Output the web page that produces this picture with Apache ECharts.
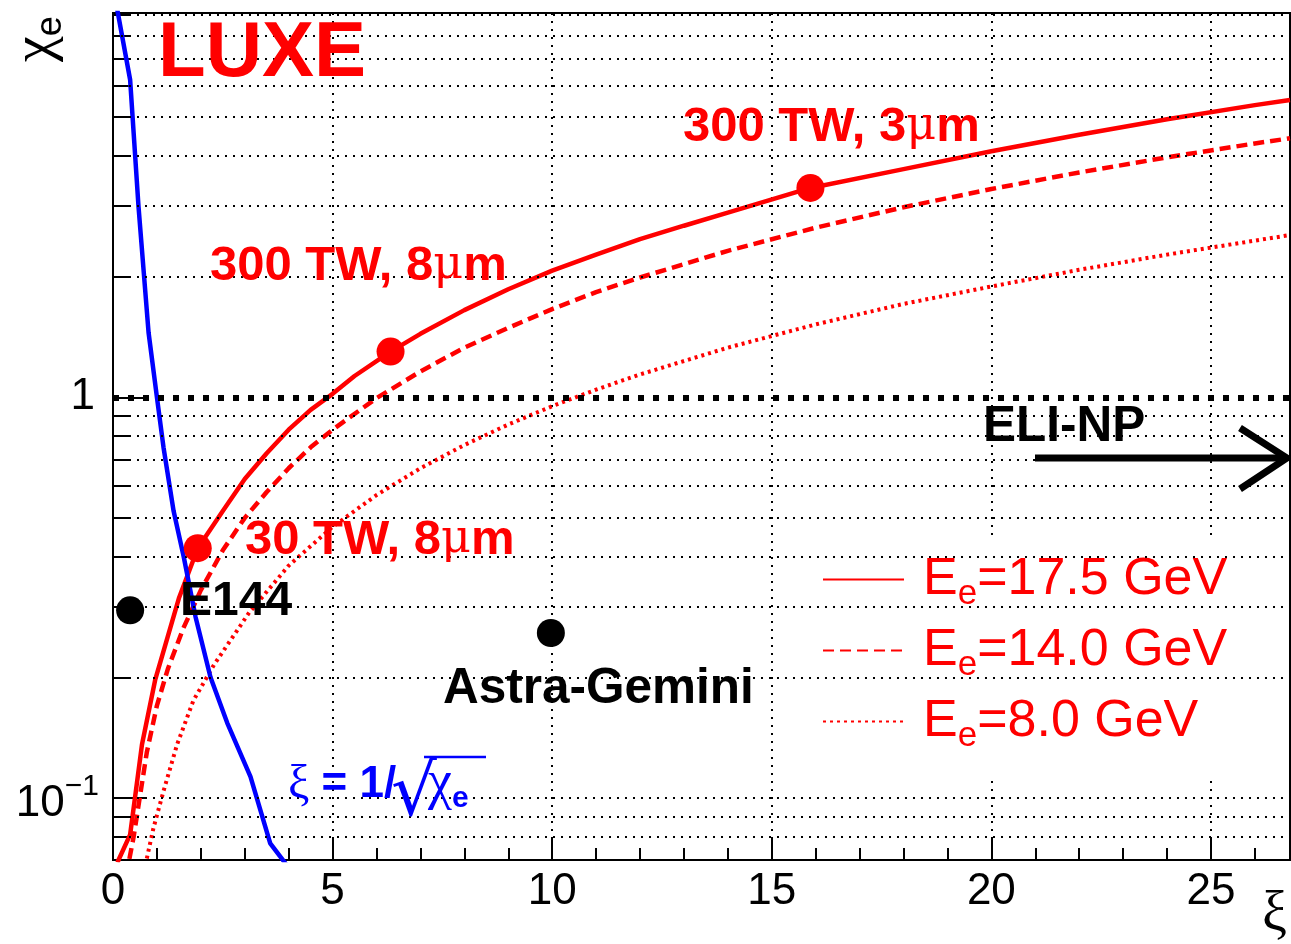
<!DOCTYPE html>
<html><head><meta charset="utf-8">
<script src="https://cdn.jsdelivr.net/npm/echarts@6/dist/echarts.min.js"></script>
<style>html,body{margin:0;padding:0;background:#fff}#c{width:1291px;height:944px}</style>
</head><body><div id="c"></div>
<script>
// ---- data ----
const xi175  = [0.1, 0.39, 0.66, 0.96, 1.5, 1.93, 2.5, 3.0, 3.5, 4.0, 4.5, 5.0, 5.5, 6.32, 7.0, 8.0, 9.0, 10, 11, 12, 13, 14, 15.88, 18, 20, 22, 24, 26, 26.8];
const chi175 = [0.069, 0.081, 0.136, 0.197, 0.315, 0.42, 0.52, 0.625, 0.725, 0.83, 0.93, 1.02, 1.13, 1.30, 1.44, 1.65, 1.86, 2.07, 2.27, 2.48, 2.68, 2.89, 3.33, 3.71, 4.11, 4.52, 4.94, 5.36, 5.52];

const xi140  = [0.3, 0.47, 0.77, 1.0, 1.25, 1.6, 2.0, 2.5, 3.0, 3.5, 4.0, 4.5, 5.0, 6.0, 7.0, 8.0, 9.0, 10, 11, 12, 14, 16, 18, 20, 22, 24, 26, 26.8];
const chi140 = [0.064, 0.08, 0.13, 0.17, 0.21, 0.265, 0.33, 0.415, 0.50, 0.58, 0.665, 0.75, 0.83, 0.995, 1.16, 1.33, 1.49, 1.66, 1.83, 1.99, 2.32, 2.65, 2.98, 3.31, 3.64, 3.97, 4.30, 4.43];

const xi80   = [0.6, 0.92, 1.15, 1.46, 1.83, 2.3, 3.1, 4.0, 5.0, 6.0, 7.0, 8.0, 9.0, 10, 11, 12, 14, 16, 18, 20, 22, 24, 26, 26.8];
const chi80  = [0.058, 0.084, 0.104, 0.136, 0.175, 0.215, 0.29, 0.38, 0.475, 0.57, 0.665, 0.76, 0.855, 0.95, 1.045, 1.14, 1.33, 1.52, 1.71, 1.89, 2.08, 2.27, 2.46, 2.54];

const xiBlue  = [0.05, 0.39, 0.58, 0.81, 1.0, 1.15, 1.38, 1.61, 1.88, 2.22, 2.6, 3.13, 3.58, 4.0];
const chiBlue = [9.9, 6.2, 3.0, 1.45, 1.0, 0.75, 0.52, 0.40, 0.283, 0.20, 0.154, 0.113, 0.077, 0.067];

const laserXi  = [1.93, 6.32, 15.88];
const laserChi = [0.42, 1.30, 3.33];
const expXi    = [0.39, 9.97];
const expChi   = [0.294, 0.258];

const legendNames  = ['Ee=17.5 GeV', 'Ee=14.0 GeV', 'Ee=8.0 GeV'];
const legendValues = ['17.5', '14.0', '8.0'];

const xTickMajor = [0, 5, 10, 15, 20, 25];
const yGridVals  = [0.08, 0.09, 0.1, 0.2, 0.3, 0.4, 0.5, 0.6, 0.7, 0.8, 0.9, 2, 3, 4, 5, 6, 7, 8, 9];
const yMinorTicks = [0.08, 0.09, 0.2, 0.3, 0.4, 0.5, 0.6, 0.7, 0.8, 0.9, 2, 3, 4, 5, 6, 7, 8, 9];
const yMajorTicks = [0.1, 1];

// ---- chart ----
const zip = (a, b) => a.map((v, i) => [v, b[i]]);
const SANS = "'Liberation Sans', Arial, Helvetica, sans-serif";
const SERIF = "'DejaVu Serif', 'Liberation Serif', serif";
const RED = '#ff0000';

const chart = echarts.init(document.getElementById('c'), null, {renderer: 'canvas'});

const labelRich = {b: {fill: RED, fontFamily: SANS, fontWeight: 'bold', fontSize: 49}, mu: {fill: RED, fontFamily: SERIF, fontSize: 46}};

const option = {
  animation: false,
  backgroundColor: '#fff',
  grid: {left: 113, right: 1, top: 13, bottom: 84, show: true, borderColor: '#000', borderWidth: 2, backgroundColor: 'transparent', outerBoundsMode: 'none'},
  xAxis: [
    {type: 'value', min: 0, max: 26.8, interval: 5, position: 'bottom',
     axisLine: {show: true, lineStyle: {color: '#000', width: 2}},
     axisTick: {show: true, inside: true, length: 23, lineStyle: {color: '#000', width: 2}},
     axisLabel: {show: true, color: '#000', fontFamily: SANS, fontSize: 44, margin: 10,
       formatter: v => xTickMajor.indexOf(Math.round(v * 1000) / 1000) >= 0 ? String(v) : ''},
     splitLine: {show: true, lineStyle: {color: '#000', width: 2, type: [2, 6]}}},
    {type: 'value', min: 0, max: 26.8, interval: 1, position: 'bottom',
     axisLine: {show: false}, axisLabel: {show: false}, splitLine: {show: false},
     axisTick: {show: true, inside: true, length: 12, lineStyle: {color: '#000', width: 2}}}
  ],
  yAxis: [
    {type: 'log', logBase: 10, min: 0.07, max: 9.1, position: 'left',
     axisLine: {show: true, lineStyle: {color: '#000', width: 2}},
     axisTick: {show: true, inside: true, length: 34, customValues: yMajorTicks, lineStyle: {color: '#000', width: 2}},
     axisLabel: {show: true, customValues: yMajorTicks, margin: 14, color: '#000', fontFamily: SANS, fontSize: 44,
       formatter: v => Math.abs(v - 1) < 1e-6 ? '{n|1}' : (Math.abs(v - 0.1) < 1e-6 ? '{b|10}{sup|\u22121}' : ''),
       rich: {
         n: {fontFamily: SANS, fontSize: 44, color: '#000', padding: [0, 4, 0, 0]},
         b: {fontFamily: SANS, fontSize: 44, color: '#000', padding: [12, 0, 0, 0]},
         sup: {fontFamily: SANS, fontSize: 30, color: '#000', padding: [0, 0, 22, 0]}
       }},
     splitLine: {show: false}},
    {type: 'log', logBase: 10, min: 0.07, max: 9.1, position: 'left',
     axisLine: {show: false}, axisLabel: {show: false}, splitLine: {show: false},
     axisTick: {show: true, inside: true, length: 17, customValues: yMinorTicks, lineStyle: {color: '#000', width: 2}}}
  ],
  legend: {
    orient: 'vertical', left: 805, top: 541, padding: [6, 12, 24, 17],
    backgroundColor: '#fff', itemWidth: 81, itemHeight: 14, itemGap: 6,
    selectedMode: false, data: legendNames,
    itemStyle: {opacity: 0, color: 'rgba(0,0,0,0)', borderWidth: 0},
    formatter: name => '{p|E}{s|e}{m|=' + legendValues[legendNames.indexOf(name)] + ' GeV}',
    textStyle: {color: RED, fontFamily: SANS, fontSize: 52,
      rich: {
        p: {color: RED, fontFamily: SANS, fontSize: 52, lineHeight: 60, padding: [0, 0, 0, 14]},
        s: {color: RED, fontFamily: SANS, fontSize: 35, lineHeight: 60, padding: [30, 0, 0, 0]},
        m: {color: RED, fontFamily: SANS, fontSize: 52, lineHeight: 60}
      }}
  },
  series: [
    {type: 'line', name: 'grid', data: [], silent: true, z: 1,
     markLine: {silent: true, symbol: 'none', label: {show: false}, animation: false,
       lineStyle: {color: '#000', width: 2, type: [2, 6]},
       data: yGridVals.map(v => ({yAxis: v}))}},
    {type: 'line', name: legendNames[0], data: zip(xi175, chi175), symbol: 'none', z: 3,
     color: RED, lineStyle: {color: RED, width: 4.5, type: 'solid'}},
    {type: 'line', name: legendNames[1], data: zip(xi140, chi140), symbol: 'none', z: 3,
     color: RED, lineStyle: {color: RED, width: 4.5, type: [11, 6]}},
    {type: 'line', name: legendNames[2], data: zip(xi80, chi80), symbol: 'none', z: 3,
     color: RED, lineStyle: {color: RED, width: 4, type: [3, 4]}},
    {type: 'line', name: 'blue', data: zip(xiBlue, chiBlue), symbol: 'none', z: 3,
     color: '#0000ff', lineStyle: {color: '#0000ff', width: 4.5}},
    {type: 'line', name: 'one', data: [], silent: true, z: 4,
     markLine: {silent: true, symbol: 'none', label: {show: false}, animation: false,
       lineStyle: {color: '#000', width: 6, type: [6, 9], cap: 'butt'},
       data: [{yAxis: 1}]}},
    {type: 'scatter', name: 'laser', data: zip(laserXi, laserChi), symbol: 'circle', symbolSize: 28,
     itemStyle: {color: RED, opacity: 1}, z: 6},
    {type: 'scatter', name: 'exp', data: zip(expXi, expChi), symbol: 'circle', symbolSize: 28,
     itemStyle: {color: '#000', opacity: 1}, z: 6}
  ],
  graphic: [
    {type: 'text', x: 158, y: 54, z: 10, style: {text: 'LUXE', fill: RED, font: "bold 78px " + SANS, verticalAlign: 'middle', align: 'left'}},
    {type: 'text', x: 683, y: 127, z: 10, style: {text: '{b|300 TW, 3}{mu|\u03bc}{b|m}', verticalAlign: 'middle', align: 'left', rich: labelRich}},
    {type: 'text', x: 210, y: 266, z: 10, style: {text: '{b|300 TW, 8}{mu|\u03bc}{b|m}', verticalAlign: 'middle', align: 'left', rich: labelRich}},
    {type: 'text', x: 245, y: 540, z: 10, style: {text: '{b|30 TW, 8}{mu|\u03bc}{b|m}', verticalAlign: 'middle', align: 'left', rich: labelRich}},
    {type: 'text', x: 180, y: 602, z: 10, style: {text: 'E144', fill: '#000', font: "bold 48px " + SANS, verticalAlign: 'middle', align: 'left'}},
    {type: 'text', x: 443, y: 689, z: 10, style: {text: 'Astra-Gemini', fill: '#000', font: "bold 49.5px " + SANS, verticalAlign: 'middle', align: 'left'}},
    {type: 'text', x: 983, y: 427, z: 10, style: {text: 'ELI-NP', fill: '#000', font: "bold 49.5px " + SANS, verticalAlign: 'middle', align: 'left'}},
    {type: 'line', z: 10, shape: {x1: 1035, y1: 458, x2: 1286, y2: 458}, style: {stroke: '#000', lineWidth: 7}},
    {type: 'polyline', z: 10, shape: {points: [[1240, 428], [1287, 458], [1240, 489]]}, style: {stroke: '#000', lineWidth: 7, fill: null, lineJoin: 'miter'}},
    {type: 'text', x: 288, y: 785, z: 10, style: {text: '{xi|\u03be}{b| = 1/}', verticalAlign: 'middle', align: 'left',
      rich: {xi: {fill: '#0000ff', fontFamily: "'Liberation Serif', serif", fontSize: 48}, b: {fill: '#0000ff', fontFamily: SANS, fontWeight: 'bold', fontSize: 44}}}},
    {type: 'text', x: 391, y: 796, z: 10, style: {text: '\u221a', fill: '#0000ff', font: "72px 'DejaVu Sans', sans-serif", verticalAlign: 'middle', align: 'left'}},
    {type: 'line', z: 10, shape: {x1: 424, y1: 757, x2: 486, y2: 757}, style: {stroke: '#0000ff', lineWidth: 2.5}},
    {type: 'text', x: 428, y: 784, z: 10, style: {text: '{c|\u03c7}{s|e}', verticalAlign: 'middle', align: 'left',
      rich: {c: {fill: '#0000ff', fontFamily: "'Liberation Serif', serif", fontSize: 54, lineHeight: 50}, s: {fill: '#0000ff', fontFamily: SANS, fontWeight: 'bold', fontSize: 30, lineHeight: 50, padding: [30, 0, 0, 0]}}}},
    {type: 'text', x: 36, y: 62, rotation: Math.PI / 2, z: 10, style: {text: '{c|\u03c7}{s|e}', verticalAlign: 'middle', align: 'left',
      rich: {c: {fill: '#000', fontFamily: "'Liberation Serif', serif", fontSize: 58, lineHeight: 56}, s: {fill: '#000', fontFamily: SANS, fontSize: 36, lineHeight: 56, padding: [30, 0, 0, 0]}}}},
    {type: 'text', x: 1262, y: 915, z: 10, style: {text: '\u03be', fill: '#000', font: "56px 'Liberation Serif', serif", verticalAlign: 'middle', align: 'left'}}
  ]
};
chart.setOption(option);
</script>
</body></html>
